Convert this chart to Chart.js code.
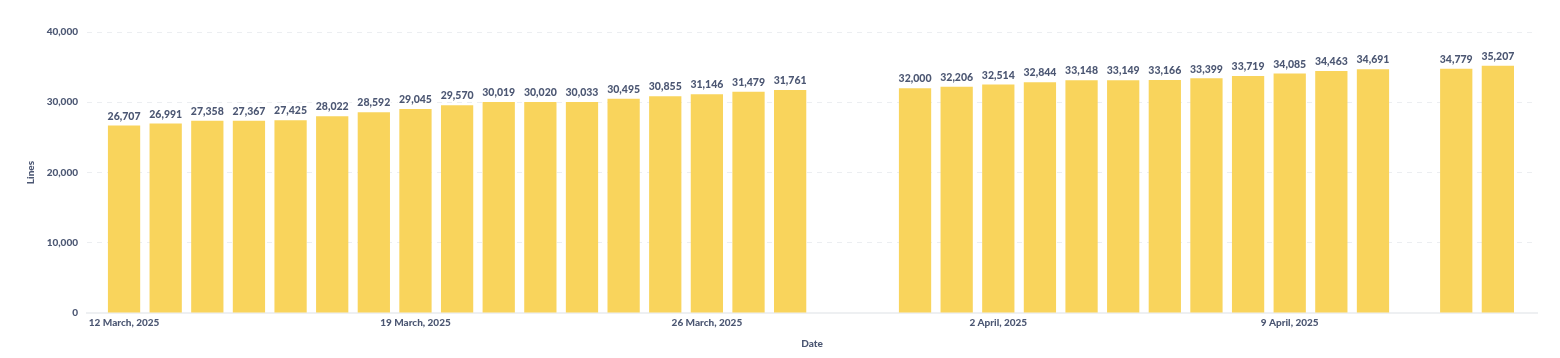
<!DOCTYPE html>
<html>
<head>
<meta charset="utf-8">
<script src="https://cdn.jsdelivr.net/npm/chart.js@4.4.1/dist/chart.umd.min.js"></script>
<style>
  html, body { margin: 0; padding: 0; background: #fff; }
  #wrap { width: 1560px; height: 358px; }
</style>
</head>
<body>
<div id="wrap"><canvas id="myChart" width="1560" height="358"></canvas></div>
<script>
// days that have a value (29, 30 March and 12 April are missing)
const dates = [
  '2025-03-12', '2025-03-13', '2025-03-14', '2025-03-15', '2025-03-16', '2025-03-17',
  '2025-03-18', '2025-03-19', '2025-03-20', '2025-03-21', '2025-03-22', '2025-03-23',
  '2025-03-24', '2025-03-25', '2025-03-26', '2025-03-27', '2025-03-28',
  '2025-03-31', '2025-04-01', '2025-04-02', '2025-04-03', '2025-04-04', '2025-04-05',
  '2025-04-06', '2025-04-07', '2025-04-08', '2025-04-09', '2025-04-10', '2025-04-11',
  '2025-04-13', '2025-04-14'
];
const lines = [
  26707, 26991, 27358, 27367, 27425, 28022,
  28592, 29045, 29570, 30019, 30020, 30033,
  30495, 30855, 31146, 31479, 31761,
  32000, 32206, 32514, 32844, 33148, 33149,
  33166, 33399, 33719, 34085, 34463, 34691,
  34779, 35207
];
const tickDates = ['2025-03-12', '2025-03-19', '2025-03-26', '2025-04-02', '2025-04-09'];
const tickLabels = ['12 March, 2025', '19 March, 2025', '26 March, 2025', '2 April, 2025', '9 April, 2025'];
const yTicks = [0, 10000, 20000, 30000, 40000];

const DAY = 86400000;
const start = Date.parse(dates[0]);
const dayIndex = d => Math.round((Date.parse(d) - start) / DAY);

const ink = '#4c5773';
const fontFamily = 'Lato, "Noto Sans", sans-serif';
const labelFont = { family: fontFamily, size: 10, weight: '900' };

const barLabels = {
  id: 'barLabels',
  afterDatasetsDraw(chart) {
    const ctx = chart.ctx;
    const meta = chart.getDatasetMeta(0);
    ctx.save();
    ctx.font = '900 10.5px ' + fontFamily;
    ctx.textAlign = 'center';
    ctx.textBaseline = 'bottom';
    ctx.lineJoin = 'round';
    meta.data.forEach((bar, i) => {
      const v = chart.data.datasets[0].data[i].y;
      const txt = v.toLocaleString('en-US');
      ctx.lineWidth = 3;
      ctx.strokeStyle = '#fff';
      ctx.strokeText(txt, bar.x, bar.y - 4);
      ctx.fillStyle = ink;
      ctx.fillText(txt, bar.x, bar.y - 4);
    });
    ctx.restore();
  }
};

document.addEventListener('DOMContentLoaded', function() {
  const ctx = document.getElementById('myChart').getContext('2d');

  new Chart(ctx, {
    type: 'bar',
    data: {
      datasets: [{
        label: 'Lines',
        data: dates.map((d, i) => ({ x: dayIndex(d), y: lines[i] })),
        backgroundColor: '#f9d45c',
        borderWidth: 0,
        barPercentage: 0.775,
        categoryPercentage: 1
      }]
    },
    options: {
      responsive: false,
      animation: false,
      layout: { padding: { left: 25, right: 23, top: 32, bottom: 8 } },
      plugins: {
        legend: { display: false },
        tooltip: { enabled: false }
      },
      scales: {
        x: {
          type: 'linear',
          offset: false,
          min: -0.89,
          max: dayIndex(dates[dates.length - 1]) + 0.94,
          afterBuildTicks: scale => {
            scale.ticks = tickDates.map(d => ({ value: dayIndex(d) }));
          },
          afterFit: scale => { scale.height = 37; },
          ticks: {
            autoSkip: false,
            maxRotation: 0,
            padding: 4,
            color: ink,
            font: labelFont,
            callback: (v) => tickLabels[tickDates.findIndex(d => dayIndex(d) === v)]
          },
          grid: { display: false, drawTicks: false, offset: false },
          border: { display: true, color: '#eef0f2', width: 2 },
          title: {
            display: true,
            text: 'Date',
            color: ink,
            font: labelFont,
            padding: { top: 1, bottom: 0 }
          }
        },
        y: {
          min: 0,
          max: 40000,
          afterBuildTicks: scale => {
            scale.ticks = yTicks.map(v => ({ value: v }));
          },
          afterFit: scale => { scale.width = 62; },
          ticks: {
            padding: 9,
            color: ink,
            font: labelFont,
            callback: v => v.toLocaleString('en-US')
          },
          grid: {
            color: '#eceef1',
            lineWidth: 1,
            drawTicks: false
          },
          border: { display: false, dash: [5, 5] },
          title: {
            display: true,
            text: 'Lines',
            color: ink,
            font: labelFont,
            padding: { top: 0, bottom: 0 }
          }
        }
      }
    },
    plugins: [barLabels]
  });
});
</script>
</body>
</html>
